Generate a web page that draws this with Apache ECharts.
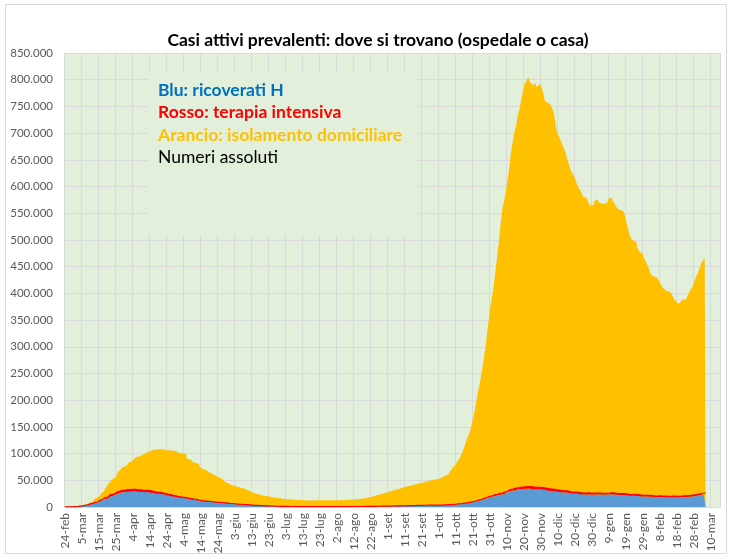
<!DOCTYPE html>
<html><head><meta charset="utf-8">
<script src="https://cdn.jsdelivr.net/npm/echarts@6/dist/echarts.min.js"></script>
<style>html,body{margin:0;padding:0;background:#fff}#c{width:732px;height:559px}</style>
</head><body><div id="c"></div>
<script>
// ---- categories: one per day from 24-feb-2020 ----
const mesi = ['gen','feb','mar','apr','mag','giu','lug','ago','set','ott','nov','dic'];
const giorni = 386;
const categorie = [];
for (let i = 0; i < giorni; i++) {
  const d = new Date(Date.UTC(2020, 1, 24 + i));
  categorie.push(d.getUTCDate() + '-' + mesi[d.getUTCMonth()]);
}

// ---- totale casi attivi (top of the orange area) ----
const totale = [
221,311,385,588,821,1049,1577,1835,2263,2706,
3296,3916,5061,6387,7985,8514,10590,12839,14955,17750,
20603,23073,26062,28710,33190,37860,42681,46638,50418,54030,
57521,62013,66414,70065,73880,75528,77635,80572,83049,85388,
88274,91246,93187,94067,95262,96877,98273,100269,102253,103616,
104291,105418,106607,106962,107771,108257,108237,107709,107699,106848,
106527,105847,106103,105813,105205,104657,101551,100943,100704,100179,
99980,98467,91528,89624,87961,84842,83324,82488,81266,78457,
76440,72070,70187,68351,66553,65129,62752,60960,59322,57752,
56594,55300,52942,50966,47986,46175,43691,42075,41367,39893,
39297,38429,36976,35877,35262,34730,32872,31710,31092,28997,
27485,26274,25909,24569,23925,23101,21543,21212,20972,20637,
19573,18655,18303,17638,16836,16496,16681,15563,15255,15060,
14884,14621,14642,14242,13595,13459,13303,13179,13157,12919,
12493,12456,12404,12368,12322,12301,12248,12209,12404,12482,
12442,12565,12581,12616,12581,12404,12456,12442,12422,12482,
12565,12616,12581,12924,13026,13263,13368,13595,13791,13815,
14081,14406,14867,15089,15360,15950,16014,16678,17503,18438,
19195,19714,20753,21932,22744,23035,24205,25204,26078,26754,
27817,28983,29905,30950,31784,32668,33340,33952,35458,35708,
37503,38509,39187,39712,40532,41413,42457,43161,44098,45079,
45489,46114,46780,47718,48593,49618,50323,50630,51263,51997,
52647,54015,55566,57429,58903,60134,62576,65952,70110,74829,
78509,82764,87193,92445,99266,107312,116935,126237,134003,142739,
155442,169302,186002,205057,222241,236684,255090,276457,299191,325786,
351386,378129,396512,418142,443235,472348,499118,531536,558636,573235,
590110,613358,635054,663926,682540,701817,712490,733810,743168,761671,
777176,791746,796000,805947,796849,793000,789000,795000,787000,789000,
793000,785000,775000,760000,757000,755000,752000,748000,740000,722000,
702000,695000,688000,680000,672000,665000,652000,642000,632000,625000,
620000,612000,603000,597000,592000,584000,580000,579000,574000,567000,
564000,567000,572000,576000,573000,569000,568000,568000,570000,568000,
573000,579000,578000,572000,568000,562000,558000,556000,554000,552000,
546000,533000,518000,508000,501000,498000,495000,487000,481000,477000,
474000,468000,461000,455000,448000,438000,433000,431000,429000,427000,
424000,418000,412000,408000,405000,403000,401000,400000,395000,390000,
385000,381000,382000,386000,389000,388000,390000,396000,403000,408000,
414000,423000,431000,438000,447000,456000,462000,466000
];

// ---- ricoverati con sintomi (blue) ----
const ricoverati = [
101,114,128,248,345,401,639,742,1034,1346,
1790,2394,2651,3557,4316,5038,5838,6650,7426,8372,
9663,11025,12894,14363,15757,16020,17708,19846,20692,21937,
23112,24753,26029,26676,27386,27795,28192,28403,28540,28741,
29010,28949,28976,28485,28399,28242,28144,28023,27847,28011,
27643,26893,26248,25786,25007,24906,25033,24134,23805,22871,
22068,21533,21372,20353,19723,19210,18149,17569,17357,17242,
16823,16270,15769,15174,14636,13834,13618,13539,12865,12172,
11453,10792,10400,10311,10207,9991,9624,9269,8957,8695,
8613,8185,7917,7729,7379,7094,6680,6387,6099,5916,
5742,5301,5002,4864,4729,4581,4320,4078,3893,3747,
3301,3089,2867,2713,2616,2474,2314,2197,2112,2084,
1974,1899,1758,1652,1514,1279,1090,1065,1046,991,
962,984,904,868,859,820,815,801,805,779,
801,754,766,749,751,750,732,727,730,735,
735,749,717,731,725,713,714,705,713,705,
723,742,784,778,779,791,797,801,808,787,
843,836,843,856,871,903,951,979,1011,1045,
1084,1106,1178,1251,1287,1290,1358,1405,1446,1466,
1505,1534,1661,1756,1836,1830,1934,1951,2043,2122,
2162,2222,2380,2285,2285,2470,2604,2658,2746,2785,
2846,2951,3048,3082,3095,3163,3223,3311,3338,3337,
3287,3386,3416,3487,3625,3782,3925,4086,4336,4519,
4821,5076,5470,5796,6178,6487,6838,7131,7676,8454,
9057,9694,10549,11287,12006,12997,14078,15105,15964,16994,
18101,18902,19840,20708,21114,22116,22911,23256,24005,25109,
26440,28633,29444,30081,30914,31398,32047,32536,33074,33504,
33610,34063,34577,34697,34345,33674,33299,33332,32848,32811,
33187,32879,32370,32021,31330,30519,29873,30081,29652,29133,
28714,28177,27679,27342,27764,27342,26604,26018,25476,25145,
24842,25145,24730,24237,23662,23332,23521,23582,23932,23662,
23151,23317,23317,23396,23634,23662,23395,23181,23371,23172,
23232,23712,24010,23512,23350,23025,22699,22469,22469,22606,
22275,21760,21355,21088,21057,21092,20991,20778,20317,19955,
19637,19488,19616,19768,19512,19223,19024,18645,18463,18533,
18740,18674,18438,18289,18069,17927,18032,18364,18295,18198,
18054,17961,18077,18257,18674,18815,18924,19181,19570,19763,
20157,20723,21132,21831,22393,22831,22944,23247
];

// ---- terapia intensiva (red) ----
const terapiaIntensiva = [
26,35,36,56,64,105,140,166,229,295,
351,462,567,650,733,877,1028,1153,1328,1518,
1672,1851,2060,2257,2498,2655,2857,3009,3204,3396,
3489,3612,3732,3856,3906,3981,4023,4035,4053,4068,
3994,3977,3898,3792,3693,3605,3497,3381,3343,3260,
3186,3079,2936,2812,2733,2635,2573,2471,2384,2267,
2173,2102,2009,1956,1863,1795,1694,1578,1539,1501,
1479,1427,1333,1311,1168,1034,1027,999,952,893,
855,808,775,762,749,716,676,640,595,572,
553,541,521,505,489,475,450,435,424,408,
353,338,316,293,287,283,263,249,236,227,
220,209,207,191,168,161,152,148,127,115,
107,103,92,86,82,79,77,71,70,72,
69,68,65,64,64,65,62,67,66,65,
57,53,52,49,48,49,49,44,43,41,
41,41,41,40,38,38,41,42,43,41,
41,42,41,42,45,49,42,41,42,56,
55,58,56,58,58,58,63,64,66,69,
69,69,79,86,86,94,107,109,107,110,
121,120,133,140,150,164,143,164,175,182,
185,201,207,201,207,215,222,220,239,244,
247,251,244,264,271,280,283,290,294,290,
297,303,319,323,337,358,387,390,420,452,
514,539,586,638,705,750,797,870,926,992,
1049,1128,1208,1284,1411,1536,1651,1746,1843,1939,
2022,2116,2225,2292,2391,2515,2634,2749,2849,2971,
3081,3170,3230,3306,3422,3492,3612,3670,3712,3748,
3758,3801,3810,3816,3846,3848,3816,3782,3753,3762,
3744,3663,3616,3597,3567,3517,3468,3458,3382,3345,
3291,3265,3199,3158,3158,3095,3003,2855,2819,2748,
2733,2727,2687,2634,2601,2571,2549,2565,2580,2569,
2528,2555,2569,2583,2579,2579,2569,2587,2579,2587,
2610,2636,2643,2634,2587,2579,2544,2522,2503,2487,
2461,2418,2390,2372,2372,2372,2352,2327,2304,2270,
2252,2242,2225,2214,2194,2171,2143,2126,2108,2101,
2125,2131,2094,2085,2074,2059,2067,2074,2094,2074,
2077,2062,2063,2110,2146,2146,2168,2194,2231,2289,
2351,2411,2475,2525,2605,2700,2756,2827
];

// ---- y axis ticks ----
const yMax = 850000;
const yStep = 50000;

const titolo = 'Casi attivi prevalenti: dove si trovano (ospedale o casa)';
const legenda = [
  ['Blu: ricoverati H', '#0070C0', 'bold'],
  ['Rosso: terapia intensiva', '#FF0000', 'bold'],
  ['Arancio: isolamento domiciliare', '#FFC000', 'bold'],
  ['Numeri assoluti', '#000000', 'normal']
];

const FONT = 'Lato, "Open Sans", sans-serif';
function fmt(v) { return String(v).replace(/\B(?=(\d{3})+(?!\d))/g, '.'); }

const chart = echarts.init(document.getElementById('c'), null, {renderer: 'canvas'});
const graphic = [
  {type: 'rect', silent: true, z: 1, shape: {x: 5.5, y: 4.5, width: 721, height: 549},
   style: {fill: 'none', stroke: '#D9D9D9', lineWidth: 1}},
  {type: 'rect', silent: true, z: 1, shape: {x: 148, y: 72, width: 270, height: 163},
   style: {fill: '#E2EFDA'}},
  {type: 'text', z: 5, x: 378, y: 40,
   style: {text: titolo, fill: '#000', font: 'bold 17.5px ' + FONT, textAlign: 'center', textVerticalAlign: 'middle'}}
];
legenda.forEach((l, i) => {
  graphic.push({type: 'text', z: 5, x: 158, y: 90 + i * 22.5,
    style: {text: l[0], fill: l[1], font: l[2] + ' 17.5px ' + FONT, textAlign: 'left', textVerticalAlign: 'middle'}});
});

chart.setOption({
  animation: false,
  backgroundColor: '#ffffff',
  grid: {left: 64, right: 12, top: 53, bottom: 52, show: true, backgroundColor: '#E2EFDA', borderWidth: 0},
  xAxis: {
    type: 'category', data: categorie, boundaryGap: true,
    axisLine: {show: true, lineStyle: {color: '#D9D9D9'}},
    axisTick: {show: false},
    axisLabel: {interval: 9, rotate: 90, color: '#595959', fontSize: 12, fontFamily: FONT, margin: 6},
    splitLine: {show: true, interval: 9, lineStyle: {color: '#D9D9D9', width: 1}}
  },
  yAxis: {
    type: 'value', min: 0, max: yMax, interval: yStep,
    axisLine: {show: false}, axisTick: {show: false},
    axisLabel: {formatter: fmt, color: '#595959', fontSize: 11.5, fontFamily: FONT, margin: 11},
    splitLine: {lineStyle: {color: '#D9D9D9', width: 1}}
  },
  series: [
    {name: 'Arancio', type: 'line', data: totale, step: 'middle', symbol: 'none', z: 2,
     lineStyle: {width: 0}, areaStyle: {color: '#FFC000', opacity: 1}},
    {name: 'Blu', type: 'line', stack: 'h', data: ricoverati, step: 'middle', symbol: 'none', z: 3,
     lineStyle: {width: 0}, areaStyle: {color: '#5B9BD5', opacity: 1}},
    {name: 'Rosso', type: 'line', stack: 'h', data: terapiaIntensiva, step: 'middle', symbol: 'none', z: 4,
     lineStyle: {width: 1.2, color: '#FF0000'}, areaStyle: {color: '#FF0000', opacity: 1}}
  ],
  graphic: graphic
});
</script>
</body></html>
